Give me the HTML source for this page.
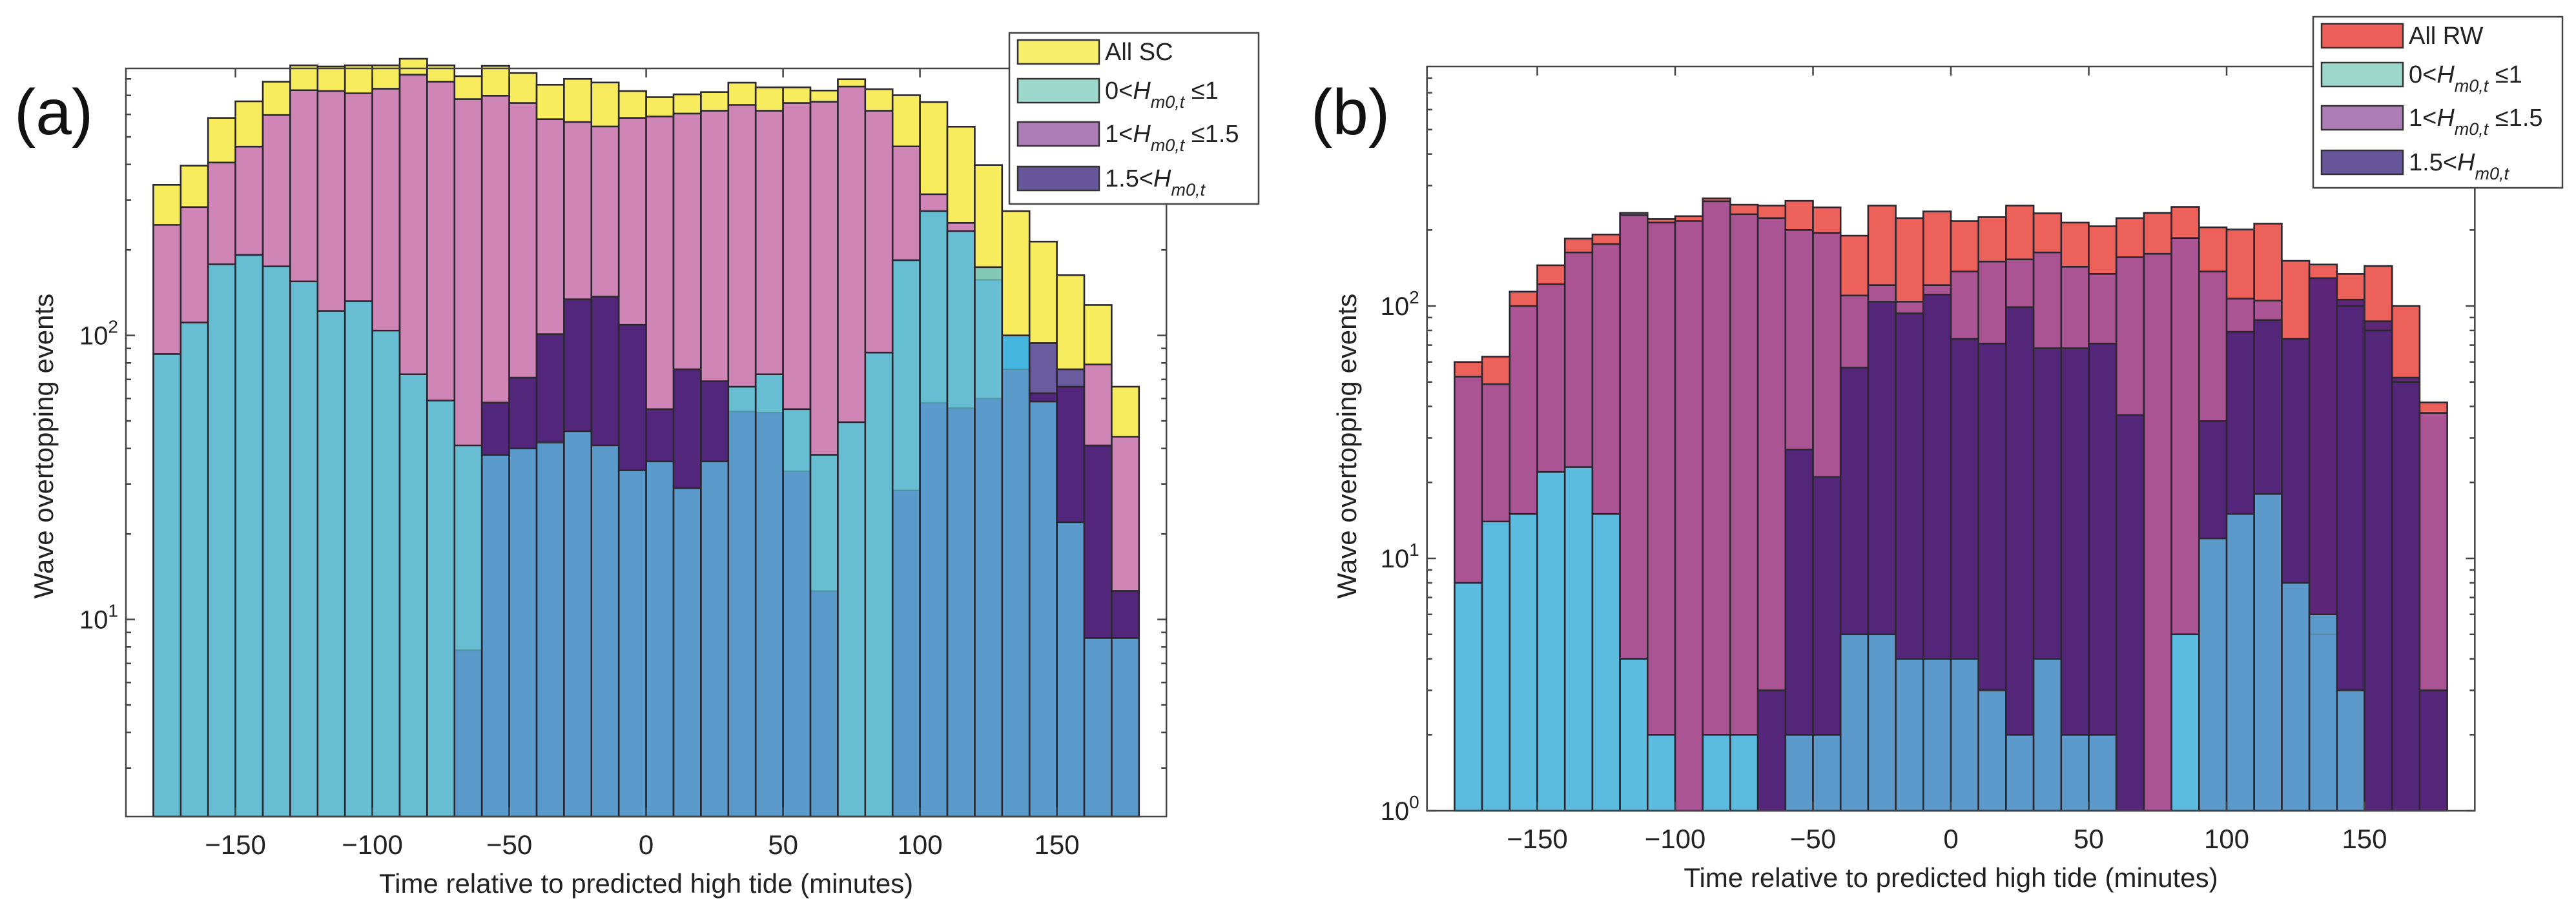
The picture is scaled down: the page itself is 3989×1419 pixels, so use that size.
<!DOCTYPE html>
<html><head><meta charset="utf-8"><title>Wave overtopping histograms</title>
<style>
html,body{margin:0;padding:0;background:#fff;}
svg{display:block;font-family:"Liberation Sans",Arial,sans-serif;}
</style></head>
<body>
<svg id="fig" width="3989" height="1419" viewBox="0 0 3989 1419" xmlns="http://www.w3.org/2000/svg">
<rect x="0" y="0" width="3989" height="1419" fill="#fff"/>
</svg>
<script>
// ---- data (bin start, minutes) ----
const binStarts = [-180,-170,-160,-150,-140,-130,-120,-110,-100,-90,-80,-70,-60,-50,-40,-30,-20,-10,0,10,20,30,40,50,60,70,80,90,100,110,120,130,140,150,160,170];
const xTickValues = [-150,-100,-50,0,50,100,150];
const xTickLabels = ["\u2212150","\u2212100","\u221250","0","50","100","150"];

// Panel (a): SC
const totalA = [339,396,583,667,782,893,885,893,893,942,893,818,889,839,763,800,777,725,690,706,719,776,747,747,728,798,736,701,663,543,398,274,214,163,128,66];
const lowA   = [86,111,178,192,175,155,122,132,104,73,59,41,38,40,42,46,41,33.5,36,29,36,66,73,55,38,49.5,87,184,274,233,174,100,58.5,22,8.6,8.6];
const midA   = [245,283,406,462,597,730,725,712,739,828,782,679,698,658,577,564,544,583,590,604,618,648,618,658,665,752,618,463,314,249,157,76,62.6,66,79,44];
const highA  = [0,0,0,0,0,0,0,0,0,0,0,7.8,58,71,101,134,137,109,55,76,69,54,53.5,33.3,12.6,0,0,28.5,58,55.5,60,100,94,76,41,12.6];

// Panel (b): RW
const totalB = [60,63,114,145,185,192,234,221,227,267,252,250,261,246,190,250,223,237,217,225,250,233,214,207,223,234,247,205,201,212,151,146,134,144,100,41.5];
const lowB   = [8,14,15,22,23,15,4,2,0,2,2,0,2,2,5,5,4,4,4,3,2,4,2,2,0,0,5,12,15,18,8,6,3,0,0,0];
const midB   = [52.5,49,100,122,163,176,229,214,217,260,231,223,200,195,110,121,104,121,137,150,153,163,143,134,156,161,186,137,107,105,74,5,100,80,50,37.7];
const highB  = [0,0,0,0,0,0,0,0,0,0,0,3,27,21,57,104,93.5,111,74,71,99,68,68,71,37,0,0,35,79,88,74,129,106,87,52,3];

const svg = document.getElementById('fig');
const NS = 'http://www.w3.org/2000/svg';
function mk(tag, attrs, parent){
  const e = document.createElementNS(NS, tag);
  for (const k in attrs) e.setAttribute(k, attrs[k]);
  (parent||svg).appendChild(e);
  return e;
}

const colorsA = {'':'#f6ec5e','P':'#cf85b5','U':'#6a5a9e','C':'#82c8b4','PU':'#52267a','PC':'#67bed2','UC':'#45b6e0','PUC':'#5b9bcb'};
const colorsB = {'':'#ec625b','P':'#ab5493','U':'#5e2679','C':'#5cbce0','PU':'#54267a','PC':'#5cbce0','UC':'#5b9acb','PUC':'#5b9acb'};

function drawPanel(p){
  const g = mk('g', {});
  
  
  const xs = t => p.x0 + p.k * t;
  const ys = v => p.bottom - (Math.log10(v) - p.ymin) / (p.ymax - p.ymin) * (p.bottom - p.top);
  const bottomVal = Math.pow(10, p.ymin);
  const left = xs(-190), right = xs(190);

  const bars = mk('g', {}, g);
  
  
  for (let i = 0; i < binStarts.length; i++){
    const x1 = xs(binStarts[i]), x2 = xs(binStarts[i] + 10);
    const T = p.total[i], P = p.mid[i], U = p.high[i], C = p.low[i];
    const pts = [bottomVal, T];
    [P, U, C].forEach(v => { if (v > bottomVal) pts.push(v); });
    pts.sort((a, b) => a - b);
    for (let j = 0; j < pts.length - 1; j++){
      const lo = pts[j], hi = pts[j + 1];
      if (hi <= lo) continue;
      let key = '';
      if (P >= hi) key += 'P';
      if (U >= hi) key += 'U';
      if (C >= hi) key += 'C';
      const seg = mk('rect', {x: x1, y: ys(hi), width: x2 - x1, height: ys(lo) - ys(hi), fill: p.colors[key]}, bars);
      
      
    }
    // inner tops
    [[P, 'P'], [U, 'U'], [C, 'C']].forEach(([v, s]) => {
      if (v <= bottomVal) return;
      const hidden = (s !== 'C' && C > v);
      const ln = mk('line', {x1: x1, x2: x2, y1: ys(v), y2: ys(v), stroke: hidden ? 'rgba(60,120,110,0.5)' : '#2b2630', 'stroke-width': hidden ? 2 : 2.6}, bars);
      
      
    });
    const out = mk('rect', {x: x1, y: ys(T), width: x2 - x1, height: ys(bottomVal) - ys(T), fill: 'none', stroke: '#2b2630', 'stroke-width': 2.6}, bars);
    
    
  }

  // axes box
  const box = mk('rect', {x: left, y: p.top, width: right - left, height: p.bottom - p.top, fill: 'none', stroke: '#444', 'stroke-width': 2.5}, g);
  
  

  // x ticks
  for (let i = 0; i < xTickValues.length; i++){
    const x = xs(xTickValues[i]);
    mk('line', {x1: x, x2: x, y1: p.bottom, y2: p.bottom - 14, stroke: '#444', 'stroke-width': 2.5}, g);
    mk('line', {x1: x, x2: x, y1: p.top, y2: p.top + 14, stroke: '#444', 'stroke-width': 2.5}, g);
    const t = mk('text', {x: x, y: p.bottom + 58, 'font-size': 42, 'text-anchor': 'middle', fill: '#222'}, g);
    t.textContent = xTickLabels[i];
    
    
  }
  // y ticks
  for (let d = Math.floor(p.ymin); d <= Math.ceil(p.ymax); d++){
    for (let m = 1; m <= 9; m++){
      const v = m * Math.pow(10, d);
      const lv = Math.log10(v);
      if (lv < p.ymin - 1e-6 || lv > p.ymax) continue;
      const y = ys(v);
      const len = m === 1 ? 14 : 8;
      mk('line', {x1: left, x2: left + len, y1: y, y2: y, stroke: '#444', 'stroke-width': 2.5}, g);
      mk('line', {x1: right, x2: right - len, y1: y, y2: y, stroke: '#444', 'stroke-width': 2.5}, g);
      if (m === 1){
        const t = mk('text', {x: left - 12, y: y + 14, 'font-size': 40, 'text-anchor': 'end', fill: '#222'}, g);
        
        
        const a = mk('tspan', {}, t); a.textContent = '10';
        const b = mk('tspan', {dy: -18, 'font-size': 28}, t); b.textContent = String(d);
      }
    }
  }
  // axis titles
  const xt = mk('text', {x: xs(0), y: p.bottom + 118, 'font-size': 42, 'text-anchor': 'middle', fill: '#222'}, g);
  xt.textContent = 'Time relative to predicted high tide (minutes)';
  
  
  const yt = mk('text', {x: 0, y: 0, 'font-size': 42, 'text-anchor': 'middle', fill: '#222', transform: 'translate(' + p.ylabelX + ',691) rotate(-90)'}, g);
  yt.textContent = 'Wave overtopping events';
  
  
  // panel label
  const pl = mk('text', {x: p.labelX, y: 208, 'font-size': 100, fill: '#111'}, g);
  pl.textContent = p.label;
  
  

  // legend
  const lg = mk('g', {}, g);
  
  
  mk('rect', {x: p.legX, y: p.legY, width: 386, height: 265, fill: '#fff', stroke: '#444', 'stroke-width': 2.5}, lg);
  const rowsY = [29, 89, 156, 225];
  const sw = [p.swTotal, '#9dd8cc', '#ad7eb5', '#675599'];
  const labels = [p.totalLabel, ['0<', ' \u22641'], ['1<', ' \u22641.5'], ['1.5<', '']];
  for (let r = 0; r < 4; r++){
    const cy = p.legY + rowsY[r];
    const e = mk('g', {}, lg);
    
    
    mk('rect', {x: p.legX + 13, y: cy - 18, width: 126, height: 37, fill: sw[r], stroke: '#333', 'stroke-width': 2.5}, e);
    const t = mk('text', {x: p.legX + 148, y: cy + 13, 'font-size': 38, fill: '#222'}, e);
    if (r === 0){ t.textContent = labels[0]; }
    else {
      const a = mk('tspan', {}, t); a.textContent = labels[r][0];
      const h = mk('tspan', {'font-style': 'italic'}, t); h.textContent = 'H';
      const s = mk('tspan', {'font-style': 'italic', 'font-size': 27, dy: 14}, t); s.textContent = 'm0,t';
      const c = mk('tspan', {dy: -14}, t); c.textContent = labels[r][1];
    }
  }
}

drawPanel({name: 'panel-a-sc', label: '(a)', labelX: 22, total: totalA, low: lowA, mid: midA, high: highA,
  colors: colorsA, x0: 1000.6, k: 4.24, top: 106, bottom: 1265, ymin: 0.306, ymax: 2.94,
  ylabelX: 82, legX: 1563, legY: 51, swTotal: '#f7ee6b', totalLabel: 'All SC'});
drawPanel({name: 'panel-b-rw', label: '(b)', labelX: 2030, total: totalB, low: lowB, mid: midB, high: highB,
  colors: colorsB, x0: 3021, k: 4.27, top: 103, bottom: 1256, ymin: 0, ymax: 2.949,
  ylabelX: 2100, legX: 3582, legY: 26, swTotal: '#ee5f5a', totalLabel: 'All RW'});
</script>
</body></html>
